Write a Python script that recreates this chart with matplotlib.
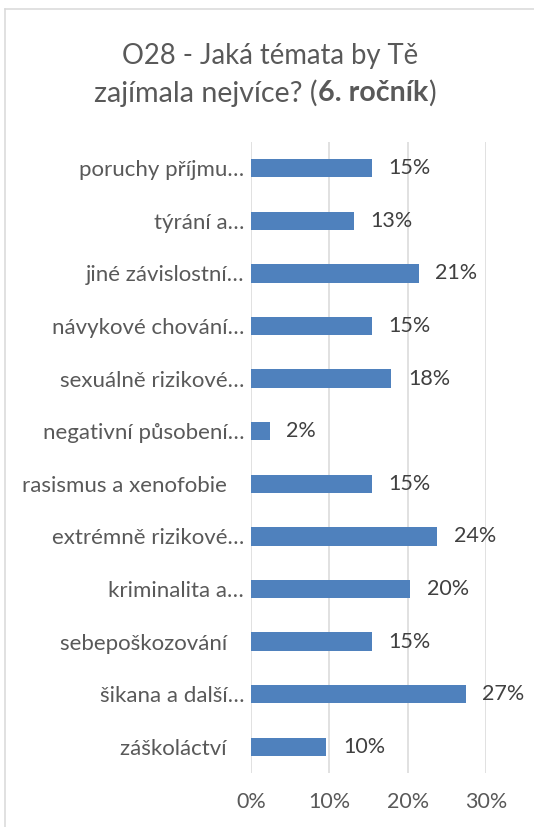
import matplotlib
matplotlib.use('Agg')
import matplotlib.pyplot as plt
from matplotlib.lines import Line2D
from matplotlib.ticker import FuncFormatter

plt.rcParams['font.family'] = ['Lato', 'DejaVu Sans']

temata = ['poruchy příjmu…', 'týrání a…', 'jiné závislostní…', 'návykové chování…',
          'sexuálně rizikové…', 'negativní působení…', 'rasismus a xenofobie   ',
          'extrémně rizikové…', 'kriminalita a…', 'sebepoškozování   ',
          'šikana a další…', 'záškoláctví   ']
podily = [15.4, 13.1, 21.4, 15.4, 17.9, 2.4, 15.4, 23.8, 20.3, 15.4, 27.4, 9.6]
xticks = [0, 10, 20, 30]

seda = '#595959'
fig = plt.figure(figsize=(5.34, 8.27), dpi=100)
ax = fig.add_axes([251/534, (827-773)/827, 235/534, 631/827])

pozice = list(range(len(temata)))
bars = ax.barh(pozice, podily, height=0.35, color='#4F81BD', zorder=3)
ax.bar_label(bars, labels=[f'{v:.0f}%' for v in podily], padding=12,
             fontsize=15.5, color='#404040')

ax.set_ylim(len(temata) - 0.5, -0.5)
ax.set_xlim(0, 30)
ax.set_yticks(pozice)
ax.set_yticklabels(temata, fontsize=16, color=seda)
ax.set_xticks(xticks)
ax.xaxis.set_major_formatter(FuncFormatter(lambda v, p: f'{v:.0f}%'))
ax.tick_params(axis='x', labelsize=15.5, labelcolor=seda, length=0, pad=14)
ax.tick_params(axis='y', length=0, pad=5)
ax.grid(axis='x', color='#D9D9D9', linewidth=1.1, zorder=0)
for s in ax.spines.values():
    s.set_visible(False)

# ramecek grafu
fig.add_artist(Line2D([5/534, 5/534], [0, 1 - 9/827], color='#D9D9D9', lw=1.1))
fig.add_artist(Line2D([5/534, 1], [1 - 9/827, 1 - 9/827], color='#D9D9D9', lw=1.1))

# nadpis, druhy radek s tucnou casti
fig.text(270/534, 1 - 56/827, 'O28 - Jaká témata by Tě', ha='center', va='center',
         fontsize=19.8, color=seda)
casti = [('zajímala nejvíce? (', 'normal'), ('6. ročník', 'bold'), (')', 'normal')]
texty = [fig.text(0, 1 - 93/827, t, ha='left', va='center', fontsize=20.6,
                  color=seda, fontweight=w) for t, w in casti]
r = fig.canvas.get_renderer()
sirky = [t.get_window_extent(r).width for t in texty]
x = 265 - sum(sirky) / 2
for t, w in zip(texty, sirky):
    t.set_x(x / 534)
    x += w

fig.savefig('out.png', dpi=100)
